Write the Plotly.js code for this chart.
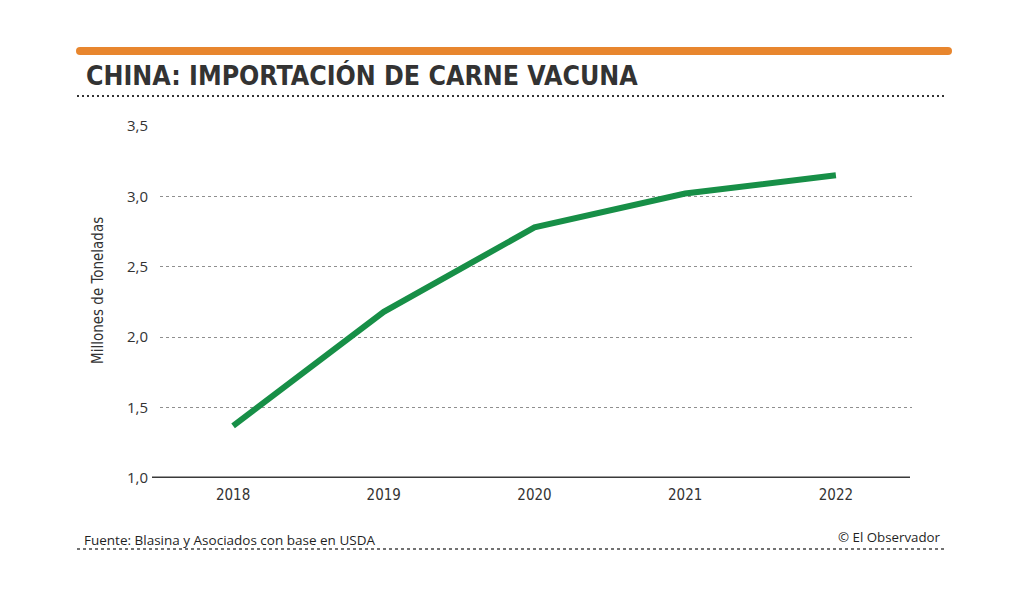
<!DOCTYPE html>
<html>
<head>
<meta charset="utf-8">
<script src="https://cdn.plot.ly/plotly-3.0.1.min.js"></script>
<style>html,body{margin:0;padding:0;background:#fff;}#chart{width:1024px;height:597px;}</style>
</head>
<body>
<div id="chart"></div>
<script>
const years = [2018, 2019, 2020, 2021, 2022];
const imports = [1.37, 2.18, 2.78, 3.02, 3.15];
const yTicks = [1.0, 1.5, 2.0, 2.5, 3.0, 3.5];
const yTickLabels = ['1,0', '1,5', '2,0', '2,5', '3,0', '3,5'];

const trace = {
  x: years,
  y: imports,
  type: 'scatter',
  mode: 'lines',
  line: {color: '#178f47', width: 6},
  hoverinfo: 'skip'
};

const L = 160, R = 912, T = 126, B = 478;
const W = R - L, H = B - T;
const px = v => (v - L) / W;
const py = v => (B - v) / H;

const condensed = 'DejaVu Sans Condensed, Liberation Sans, sans-serif';

const layout = {
  width: 1024,
  height: 597,
  margin: {l: L, r: 1024 - R, t: T, b: 597 - B},
  paper_bgcolor: '#ffffff',
  plot_bgcolor: '#ffffff',
  showlegend: false,
  hovermode: false,
  xaxis: {
    range: [2017.515, 2022.505],
    tickvals: years,
    ticktext: years.map(String),
    showgrid: false,
    zeroline: false,
    showline: false,
    ticks: '',
    ticklabelstandoff: 6,
    tickfont: {family: condensed, size: 15, color: '#333333'}
  },
  yaxis: {
    range: [1.0, 3.5],
    tickvals: yTicks,
    ticktext: yTickLabels,
    showgrid: true,
    gridcolor: '#8f8f8f',
    gridwidth: 1.3,
    griddash: '3px,3px',
    zeroline: false,
    showline: false,
    ticks: '',
    ticklabelstandoff: 11,
    tickfont: {family: 'Open Sans, sans-serif', size: 15, color: '#333333'}
  },
  shapes: [
    {type: 'line', xref: 'paper', yref: 'paper', x0: px(80), x1: px(948), y0: py(51), y1: py(51),
     line: {color: '#e8862e', width: 8}},
    {type: 'circle', xref: 'paper', yref: 'paper', xsizemode: 'pixel', ysizemode: 'pixel',
     xanchor: px(80), yanchor: py(51), x0: -4, x1: 4, y0: -4, y1: 4,
     fillcolor: '#e8862e', line: {width: 0}},
    {type: 'circle', xref: 'paper', yref: 'paper', xsizemode: 'pixel', ysizemode: 'pixel',
     xanchor: px(948), yanchor: py(51), x0: -4, x1: 4, y0: -4, y1: 4,
     fillcolor: '#e8862e', line: {width: 0}},
    {type: 'line', xref: 'paper', yref: 'paper', x0: px(77), x1: px(946), y0: py(96), y1: py(96),
     line: {color: '#333333', width: 2.2, dash: '2px,3px'}},
    {type: 'line', xref: 'paper', yref: 'paper', x0: px(77), x1: px(946), y0: py(549), y1: py(549),
     line: {color: '#444444', width: 1.4, dash: '3px,3px'}},
    {type: 'line', xref: 'paper', yref: 'y', x0: px(152), x1: px(910), y0: 1.0, y1: 1.0,
     line: {color: '#3a3a3a', width: 3}}
  ],
  annotations: [
    {text: 'CHINA: IMPORTACIÓN DE CARNE VACUNA', xref: 'paper', yref: 'paper',
     x: px(84), y: py(76), xanchor: 'left', yanchor: 'middle', showarrow: false,
     font: {family: condensed, size: 26.5, color: '#333333', weight: 'bold'}},
    {text: 'Millones de Toneladas', xref: 'paper', yref: 'paper', textangle: -90,
     x: px(98), y: py(291), xanchor: 'center', yanchor: 'middle', showarrow: false,
     font: {family: condensed, size: 15, color: '#333333'}},
    {text: 'Fuente: Blasina y Asociados con base en USDA', xref: 'paper', yref: 'paper',
     x: px(82), y: py(540), xanchor: 'left', yanchor: 'middle', showarrow: false,
     font: {family: 'Open Sans, sans-serif', size: 13.5, color: '#1f1f1f'}},
    {text: '© El Observador', xref: 'paper', yref: 'paper',
     x: px(943), y: py(537), xanchor: 'right', yanchor: 'middle', showarrow: false,
     font: {family: 'Open Sans, sans-serif', size: 13.3, color: '#1f1f1f'}}
  ]
};

Plotly.newPlot('chart', [trace], layout, {displayModeBar: false, staticPlot: true});
</script>
</body>
</html>
